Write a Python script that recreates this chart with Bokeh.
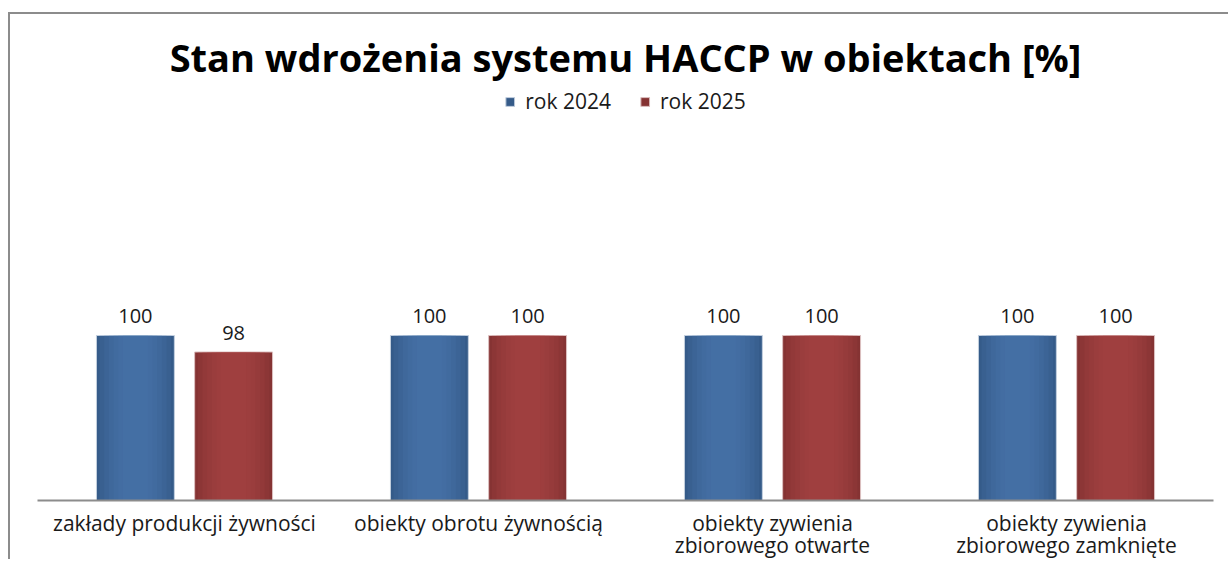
from bokeh.plotting import figure
from bokeh.models import ColumnDataSource, FactorRange, Legend, LegendItem
from bokeh.transform import dodge
from bokeh.core.properties import value
from bokeh.embed import file_html
from bokeh.resources import INLINE

categories = ["zakłady produkcji żywności", "obiekty obrotu żywnością",
              "obiekty zywienia\nzbiorowego otwarte", "obiekty zywienia\nzbiorowego zamknięte"]
series_names = ["rok 2024", "rok 2025"]
values_2024 = [100, 100, 100, 100]
values_2025 = [98, 100, 100, 100]
title_text = "Stan wdrożenia systemu HACCP w obiektach [%]"

FONT = "Open Sans"
W, H = 1220, 547

src = ColumnDataSource(dict(cat=categories, v24=values_2024, v25=values_2025,
                            l24=[str(v) for v in values_2024],
                            l25=[str(v) for v in values_2025]))

p = figure(x_range=FactorRange(*categories, range_padding=0), y_range=(80, 130.3),
           width=W, height=H, output_backend="svg", toolbar_location=None,
           min_border_left=27, min_border_right=17, min_border_bottom=59, min_border_top=71)
p.styles = {"border-left": "2px solid #8c8c8c", "border-top": "2px solid #8c8c8c",
            "margin-top": "12px", "margin-left": "8px"}
p.outline_line_color = None
p.grid.visible = False
p.yaxis.visible = False

p.title.text = title_text
p.title.align = "center"
p.title.text_font = FONT
p.title.text_font_style = "bold"
p.title.text_font_size = "38px"
p.title.text_color = "#000000"
p.title.offset = 0
p.title.standoff = 6

p.xaxis.axis_line_color = "#8c8c8c"
p.xaxis.axis_line_width = 2
p.xaxis.major_tick_line_color = None
p.xaxis.minor_tick_line_color = None
p.xaxis.major_label_text_font = FONT
p.xaxis.major_label_text_font_size = "21px"
p.xaxis.major_label_text_color = "#1a1a1a"
p.xaxis.major_label_standoff = 2
p.xaxis.major_label_text_line_height = 0.8

OFF = 0.167
BW = 0.265
specs = [("v24", "l24", -OFF, "#355b89", "#4a79b0", "#c4d0df"),
         ("v25", "l25", OFF, "#853333", "#ab4644", "#dcc0c0")]
renderers = []
for col, lab, off, dark, light, edge in specs:
    xs = dodge("cat", off, range=p.x_range)
    r = p.vbar(x=xs, top=col, bottom=80, width=BW, source=src,
               fill_color=dark, line_color=edge, line_width=1)
    renderers.append(r)
    for f in (0.92, 0.8, 0.68, 0.56, 0.44, 0.32):
        p.vbar(x=xs, top=col, bottom=80, width=BW * f, source=src,
               fill_color=light, fill_alpha=0.2, line_color=None)
    p.text(x=xs, y=col, text=lab, source=src, text_align="center", text_baseline="bottom",
           y_offset=-12, text_font=value(FONT), text_font_size="20px", text_color="#1a1a1a")

legend = Legend(items=[LegendItem(label=series_names[0], renderers=[renderers[0]]),
                       LegendItem(label=series_names[1], renderers=[renderers[1]])],
                location="top_center", orientation="horizontal")
legend.border_line_color = None
legend.background_fill_alpha = 0
legend.label_text_font = FONT
legend.label_text_font_size = "21px"
legend.label_text_color = "#1a1a1a"
legend.glyph_width = 11
legend.glyph_height = 11
legend.spacing = 28
legend.label_standoff = 10
legend.margin = 2
legend.padding = 2
p.add_layout(legend)

open("out.html", "w").write(file_html(p, INLINE))
